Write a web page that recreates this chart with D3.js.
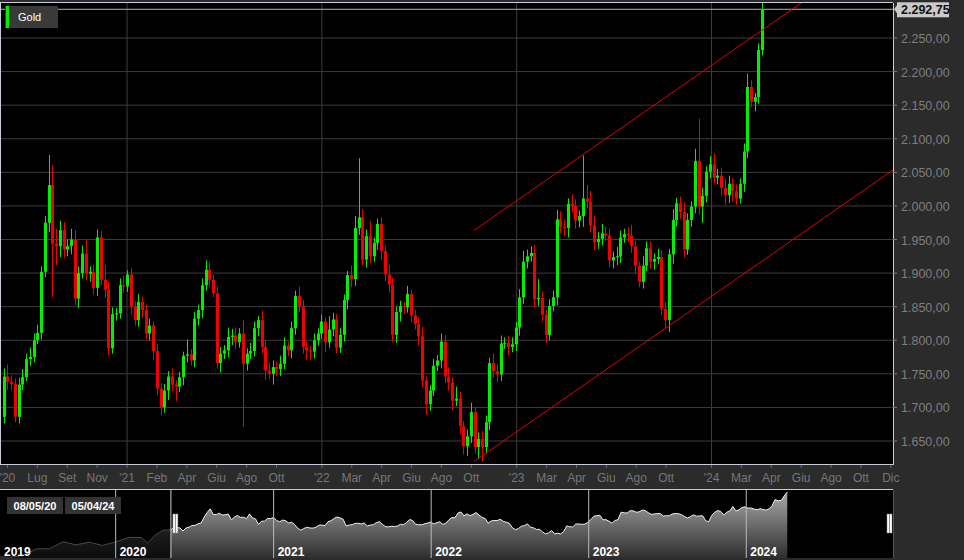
<!DOCTYPE html>
<html><head><meta charset="utf-8">
<script src="https://cdn.jsdelivr.net/npm/d3@7"></script>
<style>
body{margin:0;background:#2b2b2b;overflow:hidden}
text{font-family:Arial,"Liberation Sans",sans-serif}
</style></head>
<body><svg id="chart" width="964" height="560"></svg>
<script>
// weekly closes, first week ending 2020-05-15
const firstOpen = 1686;
const closes = [1746,1738,1735,1686,1734,1745,1772,1775,1800,1811,1902,1975,2031,1944,1940,1964,1935,1940,1950,1862,
1900,1929,1899,1902,1878,1953,1890,1875,1788,1839,1840,1882,1880,1898,1850,1830,1857,1845,1810,1822,
1784,1728,1700,1725,1746,1734,1731,1745,1777,1779,1770,1832,1845,1882,1905,1890,1870,1766,1780,1785,
1805,1807,1797,1810,1765,1780,1784,1818,1830,1790,1755,1750,1760,1757,1765,1792,1785,1818,1866,1850,
1790,1785,1783,1800,1810,1828,1797,1816,1831,1789,1808,1860,1897,1891,1967,1983,1920,1955,1925,1945,
1973,1933,1898,1883,1808,1842,1851,1849,1869,1837,1824,1806,1740,1705,1725,1762,1770,1798,1746,1737,
1710,1713,1672,1642,1657,1693,1641,1653,1641,1678,1766,1754,1749,1795,1796,1790,1794,1819,1864,1917,
1925,1930,1861,1863,1838,1808,1851,1864,1980,1969,1967,2003,2000,1978,1985,2011,2006,1971,1946,1951,
1959,1956,1919,1924,1925,1953,1958,1956,1940,1911,1887,1911,1937,1917,1921,1924,1847,1830,1928,1979,
2004,1991,1935,1979,1999,2067,1999,2015,2051,2062,2042,2045,2027,2016,2033,2022,2011,2033,2081,2177,
2155,2162,2232,2292.75];
const wickUp = [12,18,10,8,10,12,8,14,10,12,8,10,45,30,22,14,12,10,16,14,
10,12,20,8,10,12,10,22,12,10,8,10,14,6,10,8,12,8,8,10,
6,10,8,10,8,12,6,8,6,22,8,10,8,10,14,12,8,10,10,8,
14,10,12,8,20,8,12,10,6,14,10,12,10,8,12,12,6,10,8,14,
10,8,6,10,8,10,6,20,10,8,10,8,6,14,18,88,12,10,22,8,
8,10,8,14,10,8,8,6,12,6,8,10,14,6,8,10,8,12,10,14,
8,18,10,8,10,14,8,10,12,10,8,14,10,12,8,10,10,8,12,16,
10,10,12,28,10,8,10,10,14,12,10,8,14,10,8,64,20,16,14,10,
14,10,10,8,14,10,8,10,16,8,6,14,10,10,8,12,10,10,8,16,
8,10,14,10,8,18,63,12,8,12,16,10,12,14,12,8,10,8,12,20,
10,6,10,10];
const wickDn = [10,12,10,8,10,8,6,10,8,6,10,8,14,80,28,16,12,10,12,10,
14,8,10,12,10,12,8,12,10,8,10,8,10,8,12,8,10,12,8,10,
14,10,12,8,14,10,22,8,12,10,8,10,10,12,8,10,6,8,14,8,
10,12,10,8,94,10,8,8,12,10,14,8,16,10,10,8,8,12,10,8,
10,14,12,10,8,8,14,8,10,8,8,10,14,12,10,10,8,12,10,8,
10,14,10,12,10,12,14,10,8,10,8,14,10,16,10,8,8,12,10,12,
14,8,12,12,14,10,10,18,22,10,12,10,12,10,8,12,8,10,12,10,
10,8,12,10,10,12,8,8,12,10,12,14,10,12,10,16,10,10,12,10,
10,8,10,12,12,10,8,10,10,12,8,10,8,10,12,8,10,12,18,14,
10,10,12,8,10,10,12,24,10,10,8,10,12,14,12,16,10,8,12,10,
8,14,10,8];
// navigator lead-in (monthly, Apr 2019 - May 2020)
const leadDates = ["2019-04-01","2019-05-01","2019-06-01","2019-07-01","2019-08-01","2019-09-01","2019-10-01",
  "2019-11-01","2019-12-01","2020-01-01","2020-02-01","2020-03-01","2020-03-15","2020-04-01","2020-04-20","2020-05-08"];
const leadValues = [1283,1280,1305,1409,1413,1520,1472,1513,1463,1517,1589,1585,1500,1620,1700,1702];

const yTicks = [1650,1700,1750,1800,1850,1900,1950,2000,2050,2100,2150,2200,2250];
const tickLabels = [["'20","Lug","Set","Nov"],["'21","Feb","Apr","Giu","Ago","Ott"],["'22","Mar","Apr","Giu","Ago","Ott"],
  ["'23","Mar","Apr","Giu","Ago","Ott"],["'24","Mar","Apr","Giu","Ago","Ott","Dic"]];
const navYears = ["2019","2020","2021","2022","2023","2024"];
const upper = [["2022-10-12",1963],["2024-06-25",2306.6]];
const lower = [["2022-10-12",1619],["2024-12-06",2053.5]];

const parse = d3.timeParse("%Y-%m-%d");
const first = parse("2020-05-15");
const candles = closes.map((c, i) => {
  const o = i === 0 ? firstOpen : closes[i - 1];
  return {date: d3.timeWeek.offset(first, i), o, c,
    h: Math.max(o, c) + wickUp[i], l: Math.min(o, c) - wickDn[i]};
});

const svg = d3.select('#chart');
const W = 893, pTop = 3, pBot = 464;
const x = d3.scaleTime().domain([parse("2020-05-08"), parse("2024-12-06")]).range([0, W]);
const y = d3.scaleLinear().domain([1650, 2250]).range([441, 38]);
const fmt = d3.formatLocale({decimal: ",", thousands: ".", grouping: [3]}).format(",.2f");

svg.append('rect').attr('x', 0).attr('y', pTop).attr('width', W).attr('height', pBot - pTop).attr('fill', '#000');
svg.append('defs').append('clipPath').attr('id', 'plot').append('rect')
  .attr('x', 0).attr('y', pTop).attr('width', W).attr('height', pBot - pTop);

// grid
const g = svg.append('g').attr('clip-path', 'url(#plot)');
g.selectAll('.hg').data(yTicks).join('line')
  .attr('x1', 0).attr('x2', W).attr('y1', d => y(d)).attr('y2', d => y(d))
  .attr('stroke', '#3c3c3c').attr('stroke-width', 1);

let ticks = [];
tickLabels.forEach((labs, yi) => {
  if (yi === 0) {
    labs.forEach((l, k) => ticks.push({date: d3.timeDay.offset(parse("2021-01-01"), -56 * (4 - k)), label: l, year: false}));
  } else {
    labs.forEach((l, k) => ticks.push({date: d3.timeDay.offset(parse(`${2020 + yi}-01-01`), 56 * k), label: l, year: k === 0}));
  }
});
g.selectAll('.vg').data(ticks.filter(d => d.year)).join('line')
  .attr('x1', d => x(d.date)).attr('x2', d => x(d.date)).attr('y1', pTop).attr('y2', pBot)
  .attr('stroke', '#3c3c3c');

// current price line
g.append('line').attr('x1', 0).attr('x2', W).attr('y1', y(2292.75)).attr('y2', y(2292.75))
  .attr('stroke', '#b4b4b4').attr('stroke-width', 1);

// candles
const cg = g.append('g');
cg.selectAll('.wick').data(candles).join('line')
  .attr('x1', d => Math.round(x(d.date)) + 0.5).attr('x2', d => Math.round(x(d.date)) + 0.5)
  .attr('y1', d => y(d.h)).attr('y2', d => y(d.l))
  .attr('stroke', d => d.c >= d.o ? '#00f000' : '#f00000').attr('stroke-width', 1);
cg.selectAll('.body').data(candles).join('rect')
  .attr('x', d => Math.round(x(d.date)) - 1).attr('width', 3)
  .attr('y', d => y(Math.max(d.o, d.c))).attr('height', d => Math.max(1, Math.abs(y(d.o) - y(d.c))))
  .attr('fill', d => d.c >= d.o ? '#00f000' : '#f00000');

// trend channel
[upper, lower].forEach(l => {
  g.append('line')
    .attr('x1', x(parse(l[0][0]))).attr('y1', y(l[0][1]))
    .attr('x2', x(parse(l[1][0]))).attr('y2', y(l[1][1]))
    .attr('stroke', '#e00000').attr('stroke-width', 1);
});

// frame
svg.append('line').attr('x1', 0).attr('x2', W).attr('y1', pTop - 0.5).attr('y2', pTop - 0.5).attr('stroke', '#c8ccd8');
svg.append('line').attr('x1', 0).attr('x2', W + 1).attr('y1', pBot + 0.5).attr('y2', pBot + 0.5).attr('stroke', '#c8ccd8');
svg.append('line').attr('x1', W + 0.5).attr('x2', W + 0.5).attr('y1', pTop).attr('y2', pBot).attr('stroke', '#c8ccd8');
svg.append('line').attr('x1', 0.5).attr('x2', 0.5).attr('y1', pTop).attr('y2', pBot).attr('stroke', '#c8ccd8');

// y axis labels
svg.selectAll('.yl').data(yTicks).join('text')
  .attr('x', 901).attr('y', d => y(d) + 5).attr('fill', '#7e7e7e').attr('font-size', 12.5)
  .text(d => fmt(d));
svg.selectAll('.yt').data(yTicks).join('line')
  .attr('x1', W).attr('x2', W + 4).attr('y1', d => y(d)).attr('y2', d => y(d)).attr('stroke', '#7e7e7e');
svg.append('rect').attr('x', 897).attr('y', y(2292.75) - 7).attr('width', 52).attr('height', 15).attr('fill', '#c9c9c9');
svg.append('path').attr('d', `M${W + 1},${y(2292.75)}L897,${y(2292.75) - 4}L897,${y(2292.75) + 4}Z`).attr('fill', '#c9c9c9');
svg.append('text').attr('x', 901).attr('y', y(2292.75) + 5).attr('fill', '#111').attr('font-size', 12.5)
  .attr('font-weight', 'bold').text(fmt(2292.75));

// x axis labels
svg.selectAll('.xt').data(ticks).join('line')
  .attr('x1', d => x(d.date)).attr('x2', d => x(d.date)).attr('y1', pBot + 1).attr('y2', pBot + 4).attr('stroke', '#666');
svg.selectAll('.xl').data(ticks).join('text')
  .attr('x', d => x(d.date)).attr('y', 482).attr('text-anchor', 'middle')
  .attr('fill', '#767676').attr('font-size', 12).text(d => d.label);

// legend
svg.append('rect').attr('x', 5).attr('y', 6).attr('width', 53).attr('height', 22).attr('fill', '#3a3a3a');
svg.append('rect').attr('x', 6).attr('y', 6).attr('width', 3).attr('height', 22).attr('fill', '#00f000');
svg.append('text').attr('x', 18).attr('y', 21).attr('fill', '#fff').attr('font-size', 11).text('Gold');

// navigator
const nTop = 490, nBot = 558;
svg.append('rect').attr('x', 0).attr('y', nTop).attr('width', W).attr('height', nBot - nTop).attr('fill', '#000');
svg.append('line').attr('x1', 0).attr('x2', W).attr('y1', nTop - 0.5).attr('y2', nTop - 0.5).attr('stroke', '#c8ccd8');
const nx = d3.scaleTime().domain([parse("2019-04-08"), parse("2024-12-06")]).range([0, W]);
const ny = d3.scaleLinear().domain([1283, 2292.75]).range([557, 492]);
const navData = leadDates.map((d, i) => ({date: parse(d), v: leadValues[i]}))
  .concat(candles.map(d => ({date: d.date, v: d.c})));
const grad = svg.select('defs').append('linearGradient').attr('id', 'ng').attr('x1', 0).attr('x2', 0).attr('y1', 0).attr('y2', 1);
grad.append('stop').attr('offset', '0%').attr('stop-color', '#a8a8a8');
grad.append('stop').attr('offset', '100%').attr('stop-color', '#2e2e2e');
svg.append('path').datum(navData)
  .attr('d', d3.area().x(d => nx(d.date)).y0(nBot).y1(d => ny(d.v)))
  .attr('fill', 'url(#ng)');
svg.append('path').datum(navData)
  .attr('d', d3.line().x(d => nx(d.date)).y(d => ny(d.v)))
  .attr('fill', 'none').attr('stroke', '#f0f0f0').attr('stroke-width', 1);
const selX = nx(parse("2020-05-08"));
svg.append('rect').attr('x', 0).attr('y', nTop).attr('width', selX).attr('height', nBot - nTop).attr('fill', '#000').attr('opacity', 0.7);
svg.selectAll('.ny').data(navYears.slice(1)).join('line')
  .attr('x1', d => nx(parse(`${d}-01-01`))).attr('x2', d => nx(parse(`${d}-01-01`)))
  .attr('y1', nTop).attr('y2', nBot).attr('stroke', '#bbb').attr('stroke-width', 1);
svg.selectAll('.nyl').data(navYears).join('text')
  .attr('x', (d, i) => i === 0 ? 4 : nx(parse(`${d}-01-01`)) + 4).attr('y', 556)
  .attr('fill', '#fff').attr('font-size', 12).attr('font-weight', 'bold').text(d => d);
svg.append('line').attr('x1', selX).attr('x2', selX).attr('y1', nTop).attr('y2', nBot).attr('stroke', '#ccc');
[selX + 2, 887].forEach(hx => {
  svg.append('rect').attr('x', hx).attr('y', 514).attr('width', 5).attr('height', 19)
    .attr('fill', '#fff').attr('stroke', '#888').attr('stroke-width', 0.5);
  svg.append('line').attr('x1', hx + 2.5).attr('x2', hx + 2.5).attr('y1', 514).attr('y2', 533).attr('stroke', '#888');
});
svg.append('line').attr('x1', W + 0.5).attr('x2', W + 0.5).attr('y1', nTop).attr('y2', nBot).attr('stroke', '#555');
[["08/05/20", 7], ["05/04/24", 65]].forEach(([t, bx]) => {
  svg.append('rect').attr('x', bx).attr('y', 497).attr('width', 56).attr('height', 17).attr('fill', '#333');
  svg.append('text').attr('x', bx + 28).attr('y', 510).attr('text-anchor', 'middle')
    .attr('fill', '#fff').attr('font-size', 11).attr('font-weight', 'bold').text(t);
});
</script></body></html>
